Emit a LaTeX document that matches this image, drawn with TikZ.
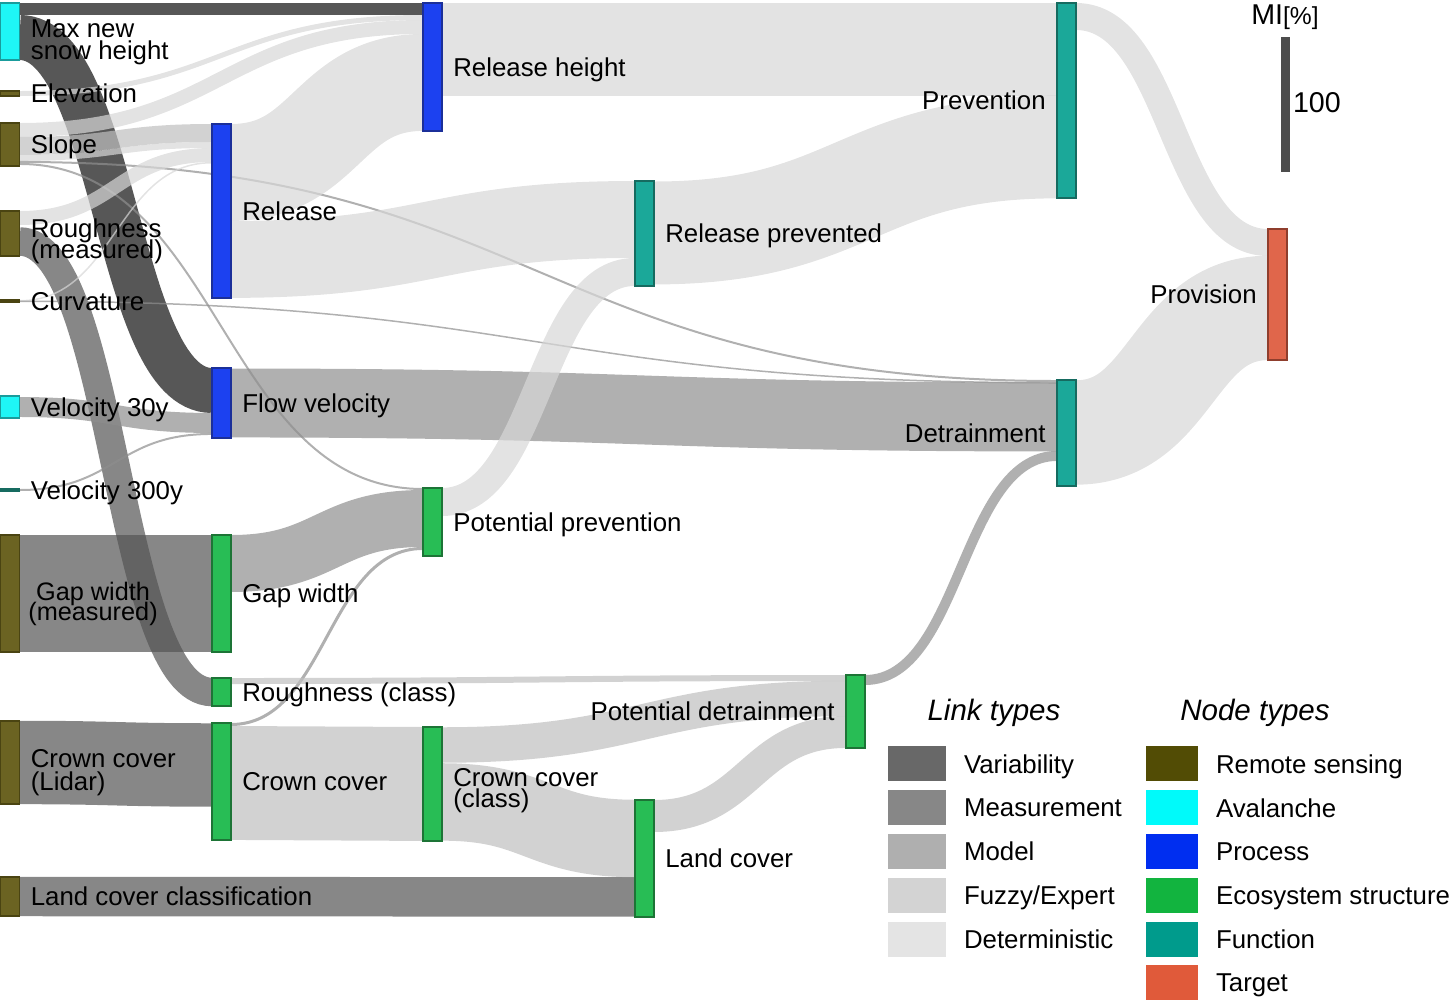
\documentclass[tikz,border=0pt]{standalone}
\usepackage{fontspec}
\setmainfont{Liberation Sans}
\usetikzlibrary{positioning,calc,backgrounds}
\setlength{\lineskiplimit}{-\maxdimen}
\definecolor{rsensF}{HTML}{6B6322}\definecolor{rsensD}{HTML}{4A4412}
\definecolor{avalF}{HTML}{1FF6F6}\definecolor{avalD}{HTML}{1A9C9C}
\definecolor{procF}{HTML}{1C41F0}\definecolor{procD}{HTML}{1B2F99}
\definecolor{ecoF}{HTML}{28BD55}\definecolor{ecoD}{HTML}{1D7436}
\definecolor{funcF}{HTML}{1BA899}\definecolor{funcD}{HTML}{166B60}
\definecolor{targF}{HTML}{E0664B}\definecolor{targD}{HTML}{8F3E2D}
\definecolor{varC}{HTML}{101010}\definecolor{measC}{HTML}{545454}
\definecolor{modC}{HTML}{8E8E8E}\definecolor{fuzC}{HTML}{BFBFBF}
\definecolor{detC}{HTML}{D7D7D7}
\definecolor{varL}{HTML}{686868}\definecolor{measL}{HTML}{878787}
\definecolor{modL}{HTML}{AFAFAF}\definecolor{fuzL}{HTML}{D3D3D3}
\definecolor{detL}{HTML}{E4E4E4}
\definecolor{rsensL}{HTML}{524C05}\definecolor{avalL}{HTML}{00FAFA}
\definecolor{procL}{HTML}{002EF0}\definecolor{ecoL}{HTML}{12B43F}
\definecolor{funcL}{HTML}{009B8C}\definecolor{targL}{HTML}{E05A3A}
\definecolor{scaleC}{HTML}{4D4D4D}
\tikzset
{
  bar/.style      = {draw, line width=0.6pt, anchor=north west, inner sep=0pt, outer sep=0pt, minimum width=0.38cm, minimum height=#1*0.02cm},
  rsens/.style    = {fill=rsensF, draw=rsensD},
  aval/.style     = {fill=avalF, draw=avalD},
  proc/.style     = {fill=procF, draw=procD},
  eco/.style      = {fill=ecoF, draw=ecoD},
  func/.style     = {fill=funcF, draw=funcD},
  targ/.style     = {fill=targF, draw=targD},
  lbl/.style      = {inner sep=0pt, text depth=0pt, align=left, font=\fontsize{14.7}{11.6}\selectfont},
  ttl/.style      = {inner sep=0pt, text depth=0pt, font=\fontsize{16.8}{18}\selectfont\itshape},
  swatch/.style   = {anchor=north west, inner sep=0pt, minimum height=0.7cm, minimum width=#1},
  varlink/.style  = {draw=varC, draw opacity=0.7},
  measlink/.style = {draw=measC, draw opacity=0.7},
  modlink/.style  = {draw=modC, draw opacity=0.7},
  fuzlink/.style  = {draw=fuzC, draw opacity=0.7},
  detlink/.style  = {draw=detC, draw opacity=0.7}
}
\newcommand\flow[7]{%
  \draw[#1, line width={((#4)-(#3)+(#7)-(#6))*0.01cm}] let \p1=(#2.north east), \p2=(#5.north west), \p3=($(\p1)!.5!(\p2)$) in
    (\x1,{\y1-(#3+#4)*0.01cm}) .. controls (\x3,{\y1-(#3+#4)*0.01cm}) and (\x3,{\y2-(#6+#7)*0.01cm}) .. (\x2,{\y2-(#6+#7)*0.01cm});}
\begin{document}
\begin{tikzpicture}[x=0.02cm, y=-0.02cm, node distance=0.22cm]
  \useasboundingbox (0,0) rectangle (1455,1002);
  \node [bar=57, aval]   (mns)     at (0.5,3)   {};
  \node [bar=5, rsens]   (elev)    at (0.5,91)  {};
  \node [bar=43, rsens]  (slope)   at (0.5,123) {};
  \node [bar=45, rsens]  (roughm)  at (0.5,211) {};
  \node [bar=2, rsens]   (curv)    at (0.5,300) {};
  \node [bar=22, aval]   (vel30)   at (0.5,396) {};
  \node [bar=2, func]    (vel300)  at (0.5,489) {};
  \node [bar=117, rsens] (gapm)    at (0.5,535) {};
  \node [bar=83, rsens]  (crownl)  at (0.5,721) {};
  \node [bar=39, rsens]  (lcc)     at (0.5,877) {};
  \node [bar=174, proc]  (release) at (212,124) {};
  \node [bar=70, proc]   (flowv)   at (212,368) {};
  \node [bar=117, eco]   (gap)     at (212,535) {};
  \node [bar=28, eco]    (roughc)  at (212,678) {};
  \node [bar=117, eco]   (crown)   at (212,723) {};
  \node [bar=128, proc]  (relh)    at (423,3)   {};
  \node [bar=68, eco]    (potprev) at (423,488) {};
  \node [bar=114, eco]   (crownc)  at (423,727) {};
  \node [bar=105, func]  (relprev) at (635,181) {};
  \node [bar=117, eco]   (landc)   at (635,800) {};
  \node [bar=73, eco]    (potdet)  at (846,675) {};
  \node [bar=195, func]  (prevent) at (1057,3)  {};
  \node [bar=106, func]  (detr)    at (1057,380) {};
  \node [bar=131, targ]  (prov)    at (1268,229) {};

  \node [lbl, right=of mns, yshift=-0.16cm, font=\fontsize{14.7}{12.4}\selectfont] (mnsl) {Max new\\snow height};
  \node [lbl, right=of elev]    (elevl)    {Elevation};
  \node [lbl, right=of slope]   (slopel)   {Slope};
  \node [lbl, right=of roughm, yshift=-0.1cm] (roughml) {Roughness\\(measured)};
  \node [lbl, right=of curv]    (curvl)    {Curvature};
  \node [lbl, right=of vel30]   (vel30l)   {Velocity 30y};
  \node [lbl, right=of vel300]  (vel300l)  {Velocity 300y};
  \node [lbl, align=center, right=0.17cm of gapm, yshift=-0.15cm, font=\fontsize{14.4}{11.4}\selectfont] (gapml) {Gap width\\(measured)};
  \node [lbl, right=of crownl, yshift=-0.15cm, font=\fontsize{14.7}{13.2}\selectfont] (crownll) {Crown cover\\(Lidar)};
  \node [lbl, right=of lcc]     (lccl)     {Land cover classification};
  \node [lbl, right=of release] (releasel) {Release};
  \node [lbl, right=of flowv]   (flowvl)   {Flow velocity};
  \node [lbl, right=of gap]     (gapl)     {Gap width};
  \node [lbl, right=of roughc]  (roughcl)  {Roughness (class)};
  \node [lbl, right=of crown]   (crownl2)  {Crown cover};
  \node [lbl, right=of relh]    (relhl)    {Release height};
  \node [lbl, right=of potprev] (potprevl) {Potential prevention};
  \node [lbl, right=of crownc, yshift=-0.08cm] (crowncl) {Crown cover\\(class)};
  \node [lbl, right=of relprev] (relprevl) {Release prevented};
  \node [lbl, right=of landc]   (landcl)   {Land cover};
  \node [lbl, left=of potdet]   (potdetl)  {Potential detrainment};
  \node [lbl, left=of prevent]  (preventl) {Prevention};
  \node [lbl, left=of detr]     (detrl)    {Detrainment};
  \node [lbl, left=of prov]     (provl)    {Provision};

  \begin{pgfonlayer}{background}
    \flow{varlink}{mns}{12}{57}{flowv}{0}{45}
    \flow{varlink}{mns}{0}{12}{relh}{0}{12}
    \flow{measlink}{roughm}{16}{45}{roughc}{0}{28}
    \flow{measlink}{gapm}{0}{117}{gap}{0}{117}
    \flow{measlink}{crownl}{0}{83}{crown}{0}{84}
    \flow{measlink}{lcc}{0}{39}{landc}{77}{117}
    \flow{detlink}{elev}{0}{5}{relh}{12}{17}
    \flow{detlink}{slope}{0}{14}{relh}{17}{31}
    \flow{fuzlink}{slope}{14}{32}{release}{0}{18}
    \flow{detlink}{slope}{32}{38}{release}{18}{24}
    \flow{modlink}{slope}{38}{40}{detr}{0}{2}
    \flow{modlink}{slope}{40}{42}{potprev}{0}{2}
    \flow{detlink}{roughm}{0}{14}{release}{24}{38}
    \flow{detlink}{curv}{0}{1.5}{release}{38}{39.5}
    \flow{modlink}{curv}{0.5}{2}{detr}{2}{3.5}
    \flow{modlink}{vel30}{1}{21}{flowv}{45}{65}
    \flow{modlink}{vel300}{0}{2}{flowv}{65}{67}
    \flow{modlink}{flowv}{0}{70}{detr}{3}{71}
    \flow{modlink}{gap}{0}{57}{potprev}{2}{59}
    \flow{modlink}{crown}{0}{3}{potprev}{59}{62}
    \flow{fuzlink}{crown}{3}{117}{crownc}{0}{114}
    \flow{detlink}{release}{0}{97}{relh}{31}{128}
    \flow{detlink}{release}{97}{174}{relprev}{0}{77}
    \flow{detlink}{potprev}{0}{28}{relprev}{77}{105}
    \flow{detlink}{relh}{0}{93}{prevent}{0}{93}
    \flow{detlink}{relprev}{0}{104}{prevent}{93}{195}
    \flow{fuzlink}{roughc}{0}{6}{potdet}{0}{6}
    \flow{fuzlink}{crownc}{0}{36}{potdet}{6}{41}
    \flow{fuzlink}{crownc}{36}{114}{landc}{0}{77}
    \flow{fuzlink}{landc}{0}{32}{potdet}{41}{73}
    \flow{modlink}{potdet}{0}{10}{detr}{71}{81}
    \flow{detlink}{prevent}{0}{27}{prov}{0}{27}
    \flow{detlink}{detr}{0}{105}{prov}{27}{131}
  \end{pgfonlayer}

  \node [inner sep=0pt, font=\fontsize{16.3}{18}\selectfont] (mi) at (1285,17) {MI{\fontsize{14}{16}\selectfont[\%]}};
  \node [swatch=0.18cm, minimum height=2.7cm, fill=scaleC] (scale) at (1280.5,37) {};
  \node [inner sep=0pt, font=\fontsize{16.3}{18}\selectfont, right=0.05cm of scale, yshift=0.04cm] (scalel) {100};

  \node [ttl] (linkt) at (994,710)  {Link types};
  \node [ttl] (nodet) at (1255,710) {Node types};
  \foreach \c/\t [count=\i from 0] in {varL/Variability, measL/Measurement, modL/Model, fuzL/{Fuzzy/Expert}, detL/Deterministic}
  {
    \node [swatch=1.16cm, fill=\c] (ls\i) at (888,{746+43.8*\i}) {};
    \node [lbl, right=0.34cm of ls\i] (lsl\i) {\t};
  }
  \foreach \c/\t [count=\i from 0] in {rsensL/Remote sensing, avalL/Avalanche, procL/Process, ecoL/Ecosystem structure, funcL/Function, targL/Target}
  {
    \node [swatch=1.04cm, fill=\c] (ns\i) at (1146,{746+43.8*\i}) {};
    \node [lbl, right=0.34cm of ns\i] (nsl\i) {\t};
  }
\end{tikzpicture}
\end{document}
